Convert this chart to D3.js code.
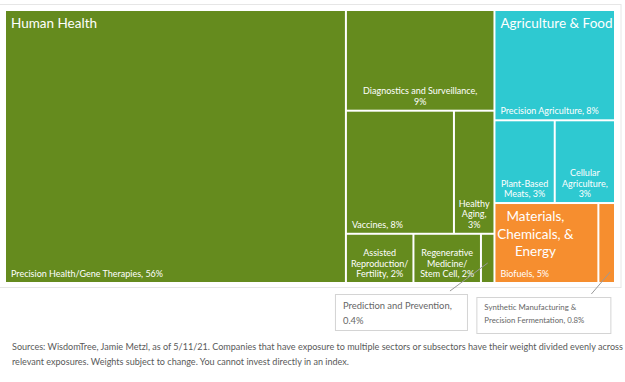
<!DOCTYPE html>
<html>
<head>
<meta charset="utf-8">
<script src="https://cdn.jsdelivr.net/npm/d3@7"></script>
<style>
  body { margin: 0; background: #fff; }
  svg { display: block; }
</style>
</head>
<body>
<svg id="chart"></svg>
<script>
// sectors and their colours
const sectors = ['Human Health', 'Agriculture & Food', 'Materials, Chemicals, & Energy'];
const sectorLines = [['Human Health'], ['Agriculture & Food'], ['Materials,', 'Chemicals, &', 'Energy']];
const sectorColors = ['#658b1e', '#2ec9d1', '#f68e2f'];

// subsectors, the sector each belongs to, and weight in %
const subsectors = [
  'Precision Health/Gene Therapies', 'Diagnostics and Surveillance', 'Vaccines', 'Healthy Aging',
  'Assisted Reproduction/Fertility', 'Regenerative Medicine/Stem Cell', 'Prediction and Prevention',
  'Precision Agriculture', 'Plant-Based Meats', 'Cellular Agriculture',
  'Biofuels', 'Synthetic Manufacturing & Precision Fermentation'
];
const subsectorSector = [0, 0, 0, 0, 0, 0, 0, 1, 1, 1, 2, 2];
const weights = [56, 9, 8, 3, 2, 2, 0.4, 8, 3, 3, 5, 0.8];

// how each label wraps ({p} = weight); callout ones are drawn outside the treemap
const labelWraps = [
  'Precision Health/Gene Therapies, {p}', 'Diagnostics and Surveillance,|{p}', 'Vaccines, {p}',
  'Healthy|Aging,|{p}', 'Assisted|Reproduction/|Fertility, {p}', 'Regenerative|Medicine/|Stem Cell, {p}',
  null, 'Precision Agriculture, {p}', 'Plant-Based|Meats, {p}', 'Cellular|Agriculture,|{p}',
  'Biofuels, {p}', null
];
const calloutWraps = { 6: 'Prediction and Prevention,|{p}', 11: 'Synthetic Manufacturing &|Precision Fermentation, {p}' };

const footnote = [
  'Sources: WisdomTree, Jamie Metzl, as of 5/11/21. Companies that have exposure to multiple sectors or subsectors have their weight divided evenly across',
  'relevant exposures. Weights subject to change. You cannot invest directly in an index.'
];

const W = 625, H = 382;
const margin = { top: 11, left: 6, right: 11, bottom: 100 };
const width = W - margin.left - margin.right;
const height = H - margin.top - margin.bottom;
const font = 'Lato, sans-serif';

const svg = d3.select('#chart').attr('width', W).attr('height', H);

// light frame round the chart
svg.append('rect')
  .attr('x', -1).attr('y', 4.5).attr('width', 622).attr('height', 283)
  .attr('fill', 'none').attr('stroke', '#e6e6e6');

const data = {
  name: 'root',
  children: sectors.map((s, i) => ({
    name: s, sector: i,
    children: subsectors.map((n, j) => ({ name: n, idx: j, value: weights[j] }))
      .filter(d => subsectorSector[d.idx] === i)
  }))
};

const root = d3.hierarchy(data).sum(d => d.value || 0);
d3.treemap()
  .size([width, height])
  .paddingInner(2)
  .tile(d3.treemapSquarify.ratio(1.355))(root);

const g = svg.append('g').attr('transform', `translate(${margin.left},${margin.top})`);
const pct = v => v + '%';

const leaves = g.selectAll('g.leaf')
  .data(root.leaves())
  .join('g')
  .attr('class', 'leaf');

leaves.append('rect')
  .attr('x', d => d.x0).attr('y', d => d.y0)
  .attr('width', d => d.x1 - d.x0).attr('height', d => d.y1 - d.y0)
  .attr('fill', d => sectorColors[d.parent.data.sector]);

leaves.each(function (d) {
  const wrap = labelWraps[d.data.idx];
  if (!wrap) return;
  const lines = wrap.replace('{p}', pct(d.data.value)).split('|');
  const multi = lines.length > 1;
  const t = d3.select(this).append('text')
    .attr('fill', '#fff')
    .attr('font-family', font)
    .attr('font-size', 9)
    .attr('text-anchor', multi ? 'middle' : 'start');
  lines.forEach((l, k) => {
    t.append('tspan')
      .attr('x', multi ? (d.x0 + d.x1) / 2 : d.x0 + 5)
      .attr('y', d.y1 - 5 - (lines.length - 1 - k) * 10.5)
      .text(l);
  });
});

// sector titles
root.children.forEach(s => {
  const lines = sectorLines[s.data.sector];
  const multi = lines.length > 1;
  const t = g.append('text')
    .attr('fill', '#fff')
    .attr('font-family', font)
    .attr('font-size', 13.5)
    .attr('text-anchor', multi ? 'middle' : 'start');
  lines.forEach((l, k) => {
    t.append('tspan')
      .attr('x', multi ? s.x0 + 40 : s.x0 + 5)
      .attr('y', s.y0 + 17 + k * 17.5)
      .text(l);
  });
});

// callouts for the two tiny cells
const callout = [
  { idx: 6, bx: -147, by: 12, bw: 132, bh: 36, fs: 9.4, lx: 0, ly: -19, ex: 115, ey: -3, lh: 15, ty: 15 },
  { idx: 11, bx: -123, by: 15, bw: 134, bh: 36, fs: 7.8, lx: 3.5, ly: -10, ex: 115, ey: -3, lh: 13, ty: 13 }
];
callout.forEach(c => {
  const d = root.leaves().find(n => n.data.idx === c.idx);
  const bx = d.x0 + c.bx, by = d.y1 + c.by;
  g.append('line')
    .attr('x1', (d.x0 + d.x1) / 2 + c.lx).attr('y1', d.y1 + c.ly)
    .attr('x2', bx + c.ex).attr('y2', by + c.ey)
    .attr('stroke', '#9a9a9a').attr('stroke-width', 1);
  g.append('rect')
    .attr('x', bx + 0.5).attr('y', by + 0.5).attr('width', c.bw).attr('height', c.bh)
    .attr('fill', '#fff').attr('stroke', '#d4d4d4');
  const lines = calloutWraps[c.idx].replace('{p}', pct(d.data.value)).split('|');
  const t = g.append('text')
    .attr('fill', '#666')
    .attr('font-family', 'Lato, sans-serif')
    .attr('font-size', c.fs);
  lines.forEach((l, k) => {
    t.append('tspan').attr('x', bx + 8).attr('y', by + c.ty + k * c.lh).text(l);
  });
});

// footnote
const fn = svg.append('text')
  .attr('fill', '#595959')
  .attr('font-family', 'Lato, sans-serif')
  .attr('font-size', 9.05);
footnote.forEach((l, k) => {
  fn.append('tspan').attr('x', 12).attr('y', 350 + k * 14.5).text(l);
});
</script>
</body>
</html>
